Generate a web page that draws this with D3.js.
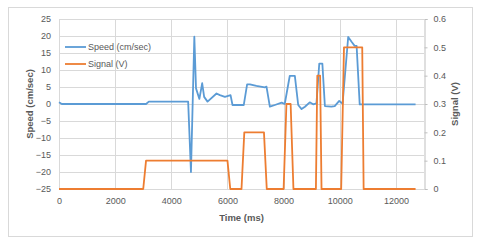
<!DOCTYPE html>
<html>
<head>
<meta charset="utf-8">
<script src="https://cdn.jsdelivr.net/npm/d3@7"></script>
<style>
  body { margin: 0; background: #fff; }
  text { font-family: "Liberation Sans", Arial, sans-serif; fill: #595959; }
</style>
</head>
<body>
<div id="chart"></div>
<script>
// Speed series (time ms, cm/sec)
var speedTime = [0, 100, 3100, 3200, 4600, 4700, 4820, 4880, 5000, 5100, 5170, 5290, 5610, 5730, 5910, 6110, 6180, 6580, 6700, 6800, 7030, 7330, 7390, 7510, 7690, 7930, 8040, 8220, 8400, 8520, 8640, 8760, 8930, 9050, 9170, 9270, 9380, 9470, 9700, 9820, 9980, 10100, 10300, 10420, 10530, 10600, 10710, 12700];
var speedVals = [0.5, 0, 0, 0.7, 0.7, -20, 19.8, 4.6, 1.5, 6.1, 2.1, 0.7, 3.1, 2.6, 2.1, 2.6, -0.3, -0.3, 5.8, 5.8, 5.3, 4.9, 5.1, -0.8, -0.3, 0.4, 0, 8.3, 8.3, -0.3, -1.5, -0.8, 0.5, -0.1, 0.2, 11.9, 11.9, -0.6, -0.8, -0.6, 0.9, 0.1, 19.7, 18.3, 17.1, 17.1, -0.1, -0.1];

// Signal series (time ms, V)
var signalTime = [0, 3000, 3100, 6000, 6100, 6500, 6600, 7300, 7400, 8000, 8100, 8250, 8350, 9150, 9200, 9300, 9350, 10050, 10150, 10800, 10850, 12700];
var signalVals = [0, 0, 0.1, 0.1, 0, 0, 0.2, 0.2, 0, 0, 0.3, 0.3, 0, 0, 0.4, 0.4, 0, 0, 0.5, 0.5, 0, 0];

var xTicks = [0, 2000, 4000, 6000, 8000, 10000, 12000];
var yTicks = [-25, -20, -15, -10, -5, 0, 5, 10, 15, 20, 25];
var y2Ticks = [0, 0.1, 0.2, 0.3, 0.4, 0.5, 0.6];

var width = 480, height = 243;
var margin = { left: 59, right: 56, top: 19, bottom: 54 };
var chartWidth = width - margin.left - margin.right;
var chartHeight = height - margin.top - margin.bottom;

var blue = '#5B9BD5', orange = '#ED7D31';

var svg = d3.select('#chart').append('svg')
    .attr('width', width)
    .attr('height', height);

// outer frame
svg.append('rect')
    .attr('x', 8.5).attr('y', 7.5)
    .attr('width', 464).attr('height', 229)
    .attr('fill', '#fff')
    .attr('stroke', '#D9D9D9');

var xScale = d3.scaleLinear().domain([0, 13000]).range([0, chartWidth]);
var yScale = d3.scaleLinear().domain([-25, 25]).range([chartHeight, 0]);
var y2Scale = d3.scaleLinear().domain([0, 0.6]).range([chartHeight, 0]);

var g = svg.append('g')
    .attr('transform', 'translate(' + margin.left + ',' + margin.top + ')');

// gridlines
g.append('g').selectAll('line.h').data(yTicks).enter().append('line')
    .attr('x1', 0).attr('x2', chartWidth)
    .attr('y1', (d) => Math.round(yScale(d)) + 0.5)
    .attr('y2', (d) => Math.round(yScale(d)) + 0.5)
    .attr('stroke', '#D9D9D9');

g.append('g').selectAll('line.v').data(xTicks).enter().append('line')
    .attr('y1', 0).attr('y2', chartHeight)
    .attr('x1', (d) => Math.round(xScale(d)) + 0.5)
    .attr('x2', (d) => Math.round(xScale(d)) + 0.5)
    .attr('stroke', '#D9D9D9');

// left axis labels
var yAxis = d3.axisLeft(yScale).tickValues(yTicks).tickSize(0).tickPadding(8);
var yG = g.append('g').call(yAxis);
yG.select('.domain').remove();
yG.selectAll('text').style('font-size', '9px').attr('fill', '#595959');

// bottom axis labels
var xAxis = d3.axisBottom(xScale).tickValues(xTicks).tickSize(0).tickPadding(9).tickFormat(d3.format('d'));
var xG = g.append('g').attr('transform', 'translate(0,' + chartHeight + ')').call(xAxis);
xG.select('.domain').remove();
xG.selectAll('text').style('font-size', '9px').attr('fill', '#595959');

// right axis
var y2Axis = d3.axisRight(y2Scale).tickValues(y2Ticks).tickSize(3).tickPadding(6).tickFormat((d) => d3.format('')(+d.toFixed(1)));
var y2G = g.append('g').attr('transform', 'translate(' + (Math.round(chartWidth) + 0.5) + ',0)').call(y2Axis);
y2G.select('.domain').attr('stroke', '#BFBFBF');
y2G.selectAll('line').attr('stroke', '#BFBFBF');
y2G.selectAll('text').style('font-size', '9px').attr('fill', '#595959');

// lines
var speedData = speedTime.map((t, i) => ({ x: t, y: speedVals[i] }));
var signalData = signalTime.map((t, i) => ({ x: t, y: signalVals[i] }));

var speedLine = d3.line().x((d) => xScale(d.x)).y((d) => yScale(d.y));
var signalLine = d3.line().x((d) => xScale(d.x)).y((d) => y2Scale(d.y));

g.append('path').datum(speedData)
    .attr('d', speedLine)
    .attr('fill', 'none')
    .attr('stroke', blue)
    .attr('stroke-width', 1.8)
    .attr('stroke-linejoin', 'round');

g.append('path').datum(signalData)
    .attr('d', signalLine)
    .attr('fill', 'none')
    .attr('stroke', orange)
    .attr('stroke-width', 1.8)
    .attr('stroke-linejoin', 'round');

// legend
var legend = [{ name: 'Speed (cm/sec)', color: blue }, { name: 'Signal (V)', color: orange }];
var lg = svg.append('g').selectAll('g').data(legend).enter().append('g')
    .attr('transform', (d, i) => 'translate(65,' + (47 + i * 17) + ')');
lg.append('line').attr('x1', 0).attr('x2', 21).attr('y1', 0).attr('y2', 0)
    .attr('stroke', (d) => d.color).attr('stroke-width', 1.8);
lg.append('text').attr('x', 23).attr('y', 0).attr('dy', '0.35em')
    .style('font-size', '9px').text((d) => d.name);

// axis titles
svg.append('text')
    .attr('x', margin.left + chartWidth / 2).attr('y', 221)
    .attr('text-anchor', 'middle')
    .style('font-size', '9.5px').style('font-weight', 'bold')
    .text('Time (ms)');

svg.append('text')
    .attr('transform', 'translate(33,' + (margin.top + chartHeight / 2) + ') rotate(-90)')
    .attr('text-anchor', 'middle')
    .style('font-size', '9.5px').style('font-weight', 'bold')
    .text('Speed (cm/sec)');

svg.append('text')
    .attr('transform', 'translate(458,' + (margin.top + chartHeight / 2) + ') rotate(-90)')
    .attr('text-anchor', 'middle')
    .style('font-size', '9.5px').style('font-weight', 'bold')
    .text('Signal (V)');
</script>
</body>
</html>
